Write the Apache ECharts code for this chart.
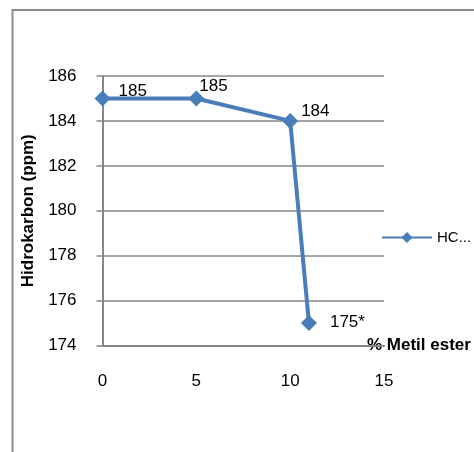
<!DOCTYPE html>
<html>
<head>
<meta charset="utf-8">
<script src="https://cdn.jsdelivr.net/npm/echarts@6/dist/echarts.min.js"></script>
<style>
html,body{margin:0;padding:0;background:#fff;}
#c{width:474px;height:452px;}
</style>
</head>
<body>
<div id="c"></div>
<script>
// Data
var xValues = [0, 5, 10, 11];
var hcValues = [185, 185, 184, 175];
var pointLabels = ['185', '185', '184', '175*'];
var seriesName = 'HC...';
var xAxisName = '% Metil ester';
var yAxisName = 'Hidrokarbon (ppm)';

// label offsets (styling, kept separate from data)
var labelOffsets = [[3, -7], [-10, -12], [-2, -10], [8, -1]];

var FONT = '"Liberation Sans", Arial, sans-serif';
var GRAY = '#868686';
var BLUE = '#4A7EBB';

var chart = echarts.init(document.getElementById('c'), null, {renderer: 'canvas'});

var seriesData = xValues.map(function (x, i) {
  return {
    value: [x, hcValues[i]],
    label: {
      show: true,
      position: 'right',
      offset: labelOffsets[i],
      formatter: pointLabels[i]
    }
  };
});

chart.setOption({
  animation: false,
  backgroundColor: '#fff',
  graphic: [{
    type: 'rect',
    shape: {x: 12.5, y: 10, width: 700, height: 700},
    style: {fill: 'none', stroke: '#8c8c8c', lineWidth: 2},
    z: -1
  }],
  grid: {left: 102.5, right: 90, top: 76, bottom: 106.5, containLabel: false, outerBoundsMode: 'none'},
  legend: {
    data: [seriesName],
    left: 376,
    top: 225,
    itemWidth: 50,
    itemHeight: 14,
    itemGap: 5,
    textStyle: {fontFamily: FONT, fontSize: 15, color: '#000'}
  },
  xAxis: {
    type: 'value',
    min: 0, max: 15, interval: 5,
    name: xAxisName,
    nameLocation: 'end',
    nameGap: -17,
    nameTextStyle: {fontFamily: FONT, fontSize: 17, fontWeight: 'bold', color: '#000', padding: [6, 0, 0, 0]},
    axisLine: {show: true, onZero: false, lineStyle: {color: GRAY, width: 2}},
    axisTick: {show: false},
    axisLabel: {margin: 27, fontFamily: FONT, fontSize: 17, color: '#000'},
    splitLine: {show: false}
  },
  yAxis: {
    type: 'value',
    min: 174, max: 186, interval: 2,
    name: yAxisName,
    nameLocation: 'middle',
    nameGap: 63,
    nameRotate: 90,
    nameTextStyle: {fontFamily: FONT, fontSize: 17, fontWeight: 'bold', color: '#000'},
    axisLine: {show: true, lineStyle: {color: GRAY, width: 2}},
    axisTick: {show: true, inside: false, length: 6, lineStyle: {color: GRAY, width: 1.5}},
    axisLabel: {margin: 26, fontFamily: FONT, fontSize: 17, color: '#000'},
    splitLine: {show: true, lineStyle: {color: GRAY, width: 1.5}}
  },
  series: [{
    name: seriesName,
    type: 'line',
    data: seriesData,
    symbol: 'diamond',
    symbolSize: 16,
    showAllSymbol: true,
    lineStyle: {color: BLUE, width: 4},
    itemStyle: {color: BLUE},
    label: {fontFamily: FONT, fontSize: 17, color: '#000'},
    emphasis: {disabled: true}
  }]
});
</script>
</body>
</html>
